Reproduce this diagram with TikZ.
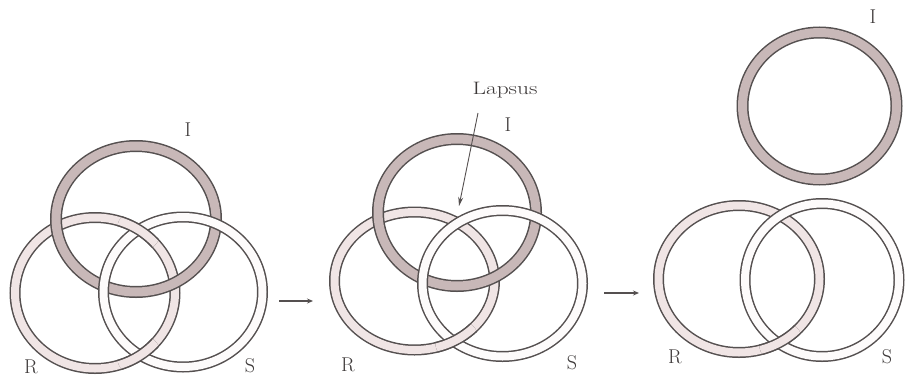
\documentclass[tikz,border=0pt]{standalone}
\usepackage{fontspec}
\usetikzlibrary{arrows.meta}
\definecolor{ol}{RGB}{85,80,80}
\definecolor{txt}{RGB}{60,56,56}
\definecolor{cI}{RGB}{200,184,184}
\definecolor{cR}{RGB}{240,229,229}
\definecolor{cS}{RGB}{253,251,251}
% #1 centre, #2 x radius, #3 y radius, #4 colour, #5 total width, #6 band width
\newcommand\ringat[6]{%
  \draw[draw=ol,line width=#5] (#1) ellipse [x radius=#2,y radius=#3];
  \draw[draw=#4,line width=#6] (#1) ellipse [x radius=#2,y radius=#3];}
\tikzset{
  lab/.style={font=\fontsize{20}{20}\selectfont, inner sep=0pt, text=txt},
  laps/.style={font=\fontsize{18}{18}\selectfont, inner sep=0pt, text=txt},
  stagearrow/.style={draw=ol, line width=1.1pt, -{Stealth[length=6pt,width=5pt]}},
  pointer/.style={draw=ol, line width=0.9pt, -{Stealth[length=9pt,width=5pt]}}
}
\begin{document}
\begin{tikzpicture}[x=1pt,y=-1pt]
\useasboundingbox[fill=white] (0,0) rectangle (905,383);

% ---------- panel 1 : Borromean knot ----------
\ringat{95,293}{80}{75.5}{cR}{11pt}{8pt}
\ringat{136,219}{80}{73}{cI}{12pt}{9pt}
\ringat{183,292}{79.5}{75}{cS}{11pt}{8pt}
% R over S at both crossings
\begin{scope}
  \clip (139,230) circle [radius=22];
  \ringat{95,293}{80}{75.5}{cR}{11pt}{8pt}
\end{scope}
\begin{scope}
  \clip (139,356) circle [radius=22];
  \ringat{95,293}{80}{75.5}{cR}{11pt}{8pt}
\end{scope}
\node[lab] (I1) at (188,130) {I};
\node[lab] (R1) at (31,367) {R};
\node[lab] (S1) at (250,366) {S};

% ---------- panel 2 : lapsus ----------
\ringat{414.5,281}{80}{69}{cR}{11pt}{8pt}
\ringat{457,212.5}{79}{73.5}{cI}{12pt}{9pt}
\ringat{502.5,283.5}{80}{73}{cS}{11pt}{8pt}
% R over S at the lower crossing only
\begin{scope}
  \clip (457,341) circle [radius=22];
  \ringat{414.5,281}{80}{69}{cR}{11pt}{8pt}
\end{scope}
\node[laps] (lapsus) at (505,90) {\scalebox{1.3}[1]{Lapsus}};
\node[lab] (I2) at (508,125) {I};
\node[lab] (R2) at (348,365) {R};
\node[lab] (S2) at (572,363) {S};
\coordinate (lapstart) at (478,113);
\coordinate (lapend) at (459,206);
\draw[pointer] (lapstart) -- (lapend);

% ---------- panel 3 : I released ----------
\ringat{739,279}{80.5}{73.5}{cR}{11pt}{8pt}
\ringat{822,280}{77}{76.5}{cS}{11pt}{8pt}
\begin{scope}
  \clip (781,343) circle [radius=22];
  \ringat{739,279}{80.5}{73.5}{cR}{11pt}{8pt}
\end{scope}
\ringat{819.5,106}{77}{73.5}{cI}{12pt}{9pt}
\node[lab] (I3) at (873,17) {I};
\node[lab] (R3) at (675,357) {R};
\node[lab] (S3) at (887,357) {S};

% ---------- stage arrows ----------
\coordinate (a1s) at (279,301);
\coordinate (a1e) at (313,301);
\coordinate (a2s) at (604,293);
\coordinate (a2e) at (639,293);
\draw[stagearrow] (a1s) -- (a1e);
\draw[stagearrow] (a2s) -- (a2e);
\end{tikzpicture}
\end{document}
